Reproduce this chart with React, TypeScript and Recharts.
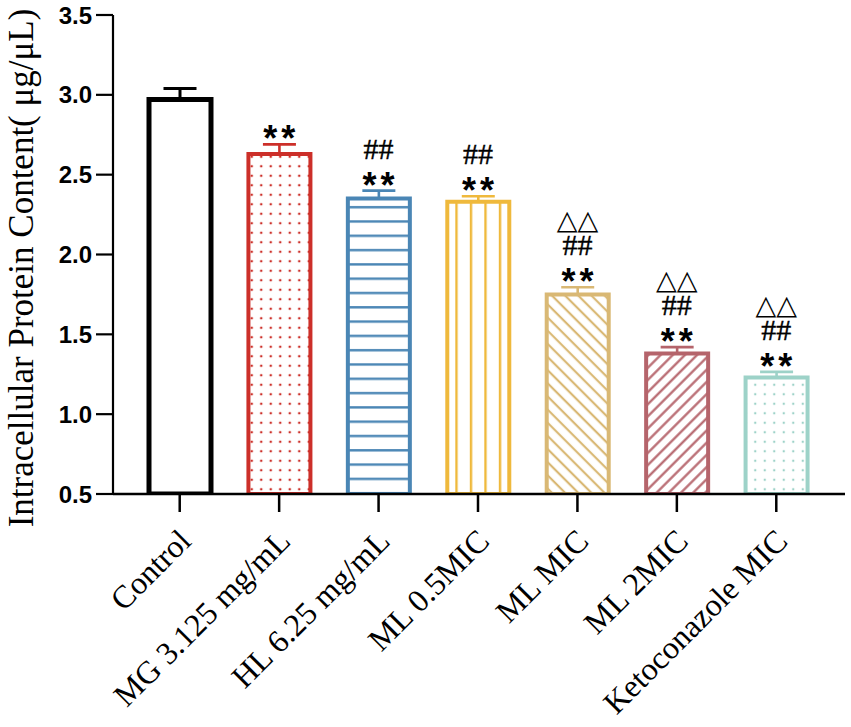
import { BarChart, Bar, Cell, ErrorBar, Line, XAxis, YAxis } from 'recharts'

const categories = [
  'Control',
  'MG 3.125 mg/mL',
  'HL 6.25 mg/mL',
  'ML 0.5MIC',
  'ML MIC',
  'ML 2MIC',
  'Ketoconazole MIC',
]
const means = [2.97, 2.63, 2.35, 2.33, 1.75, 1.38, 1.23]
const errors = [0.07, 0.06, 0.05, 0.035, 0.045, 0.04, 0.035]
const starMarks = ['', '**', '**', '**', '**', '**', '**']
const hashMarks = ['', '', '##', '##', '##', '##', '##']
const triangleMarks = ['', '', '', '', '△△', '△△', '△△']
const yTicks = [0.5, 1.0, 1.5, 2.0, 2.5, 3.0, 3.5]

const STROKES = ['#000000', '#cc2f29', '#4a86b5', '#efb93c', '#d9b874', '#b5646b', '#9dd2c8']
const FILLS = ['#ffffff', 'url(#dotsRed)', 'url(#hLines)', 'url(#vLines)', 'url(#diagBack)', 'url(#diagFwd)', 'url(#dotsTeal)']

const rows = categories.map((name, i) => {
  const row: Record<string, any> = {
    name,
    mean: means[i],
    top: means[i] + errors[i],
    stars: starMarks[i],
    hashes: hashMarks[i],
    triangles: triangleMarks[i],
  }
  row[`e${i}`] = [0, errors[i]]
  return row
})

const CategoryTick = (props: any) => {
  const { x, y, payload } = props
  const tx = x + 13
  const ty = y + 29
  return (
    <text
      x={tx}
      y={ty}
      transform={`rotate(-45 ${tx} ${ty})`}
      textAnchor="end"
      fontFamily="'Liberation Serif', 'Times New Roman', serif"
      fontSize={32}
      fill="#000"
    >
      {payload.value}
    </text>
  )
}

const Marks = (props: any) => {
  const { cx, cy, payload, index } = props
  if (cx == null || cy == null) return <g key={index} />
  return (
    <g key={index}>
      {payload.stars && (
        <text x={cx + 2} y={cy + 7} textAnchor="middle" fontFamily="'Liberation Sans', Arial, sans-serif"
          fontWeight="bold" fontSize={36} letterSpacing={4} fill="#000">
          {payload.stars}
        </text>
      )}
      {payload.hashes && (
        <text x={cx} y={cy - 32} textAnchor="middle" fontFamily="'Liberation Serif', serif"
          fontSize={30} fill="#000" stroke="#000" strokeWidth={0.4}>
          {payload.hashes}
        </text>
      )}
      {payload.triangles && (
        <text x={cx} y={cy - 58} textAnchor="middle" fontFamily="'DejaVu Sans', sans-serif"
          fontSize={27} fill="#000">
          {payload.triangles}
        </text>
      )}
    </g>
  )
}

const YLabel = () => (
  <text
    x={33}
    y={268}
    transform="rotate(-90 33 268)"
    textAnchor="middle"
    fontFamily="'Liberation Serif', 'Times New Roman', serif"
    fontSize={35}
    fill="#000"
  >
    Intracellular Protein Content( μg/μL)
  </text>
)

export default function App() {
  return (
    <div style={{ position: 'absolute', left: 0, top: 0, background: '#fff' }}>
      <BarChart
        width={851}
        height={727}
        data={rows}
        margin={{ top: 15, right: 6, left: 0, bottom: 0 }}
      >
        <defs>
          <pattern id="dotsRed" patternUnits="userSpaceOnUse" width={9.5} height={9.5}>
            <rect width={9.5} height={9.5} fill="#fff" />
            <circle cx={4.75} cy={4.75} r={1.3} fill="#cc2f29" />
          </pattern>
          <pattern id="dotsTeal" patternUnits="userSpaceOnUse" width={9.5} height={9.5}>
            <rect width={9.5} height={9.5} fill="#fff" />
            <circle cx={4.75} cy={4.75} r={1.2} fill="#9dd2c8" />
          </pattern>
          <pattern id="hLines" patternUnits="userSpaceOnUse" width={14} height={14.3}>
            <rect width={14} height={14.3} fill="#fff" />
            <line x1={0} y1={7} x2={14} y2={7} stroke="#4a86b5" strokeWidth={2.4} />
          </pattern>
          <pattern id="vLines" patternUnits="userSpaceOnUse" width={14.5} height={14}>
            <rect width={14.5} height={14} fill="#fff" />
            <line x1={7} y1={0} x2={7} y2={14} stroke="#efb93c" strokeWidth={2.4} />
          </pattern>
          <pattern id="diagBack" patternUnits="userSpaceOnUse" width={9.3} height={9.3} patternTransform="rotate(-45)">
            <rect width={9.3} height={9.3} fill="#fff" />
            <line x1={4.6} y1={0} x2={4.6} y2={9.3} stroke="#d9b874" strokeWidth={2.2} />
          </pattern>
          <pattern id="diagFwd" patternUnits="userSpaceOnUse" width={8.6} height={8.6} patternTransform="rotate(45)">
            <rect width={8.6} height={8.6} fill="#fff" />
            <line x1={4.3} y1={0} x2={4.3} y2={8.6} stroke="#b5646b" strokeWidth={2.2} />
          </pattern>
        </defs>
        <XAxis
          dataKey="name"
          height={233}
          interval={0}
          padding={{ left: 17, right: 19 }}
          tickSize={18}
          tick={<CategoryTick />}
          axisLine={{ stroke: '#000', strokeWidth: 2.5 }}
          tickLine={{ stroke: '#000', strokeWidth: 2.5 }}
        />
        <YAxis
          width={113}
          domain={[0.5, 3.5]}
          ticks={yTicks}
          allowDataOverflow
          tickFormatter={(v: number) => v.toFixed(1)}
          tickSize={17}
          tickMargin={4}
          tick={{ fontFamily: "'Liberation Sans', Arial, sans-serif", fontWeight: 'bold', fontSize: 24, fill: '#000' }}
          axisLine={{ stroke: '#000', strokeWidth: 2.2 }}
          tickLine={{ stroke: '#000', strokeWidth: 2.2 }}
          label={<YLabel />}
        />
        <Bar dataKey="mean" barSize={62} isAnimationActive={false}>
          {rows.map((r, i) => (
            <Cell key={r.name} fill={FILLS[i]} stroke={STROKES[i]} strokeWidth={i === 0 ? 5 : 4} />
          ))}
          {rows.map((r, i) => (
            <ErrorBar
              key={`err-${r.name}`}
              dataKey={`e${i}`}
              direction="y"
              width={16.5}
              stroke={STROKES[i]}
              strokeWidth={i === 0 ? 3 : 2.6}
              isAnimationActive={false}
            />
          ))}
        </Bar>
        <Line
          dataKey="top"
          stroke="none"
          dot={Marks}
          activeDot={false}
          legendType="none"
          isAnimationActive={false}
        />
      </BarChart>
    </div>
  )
}
